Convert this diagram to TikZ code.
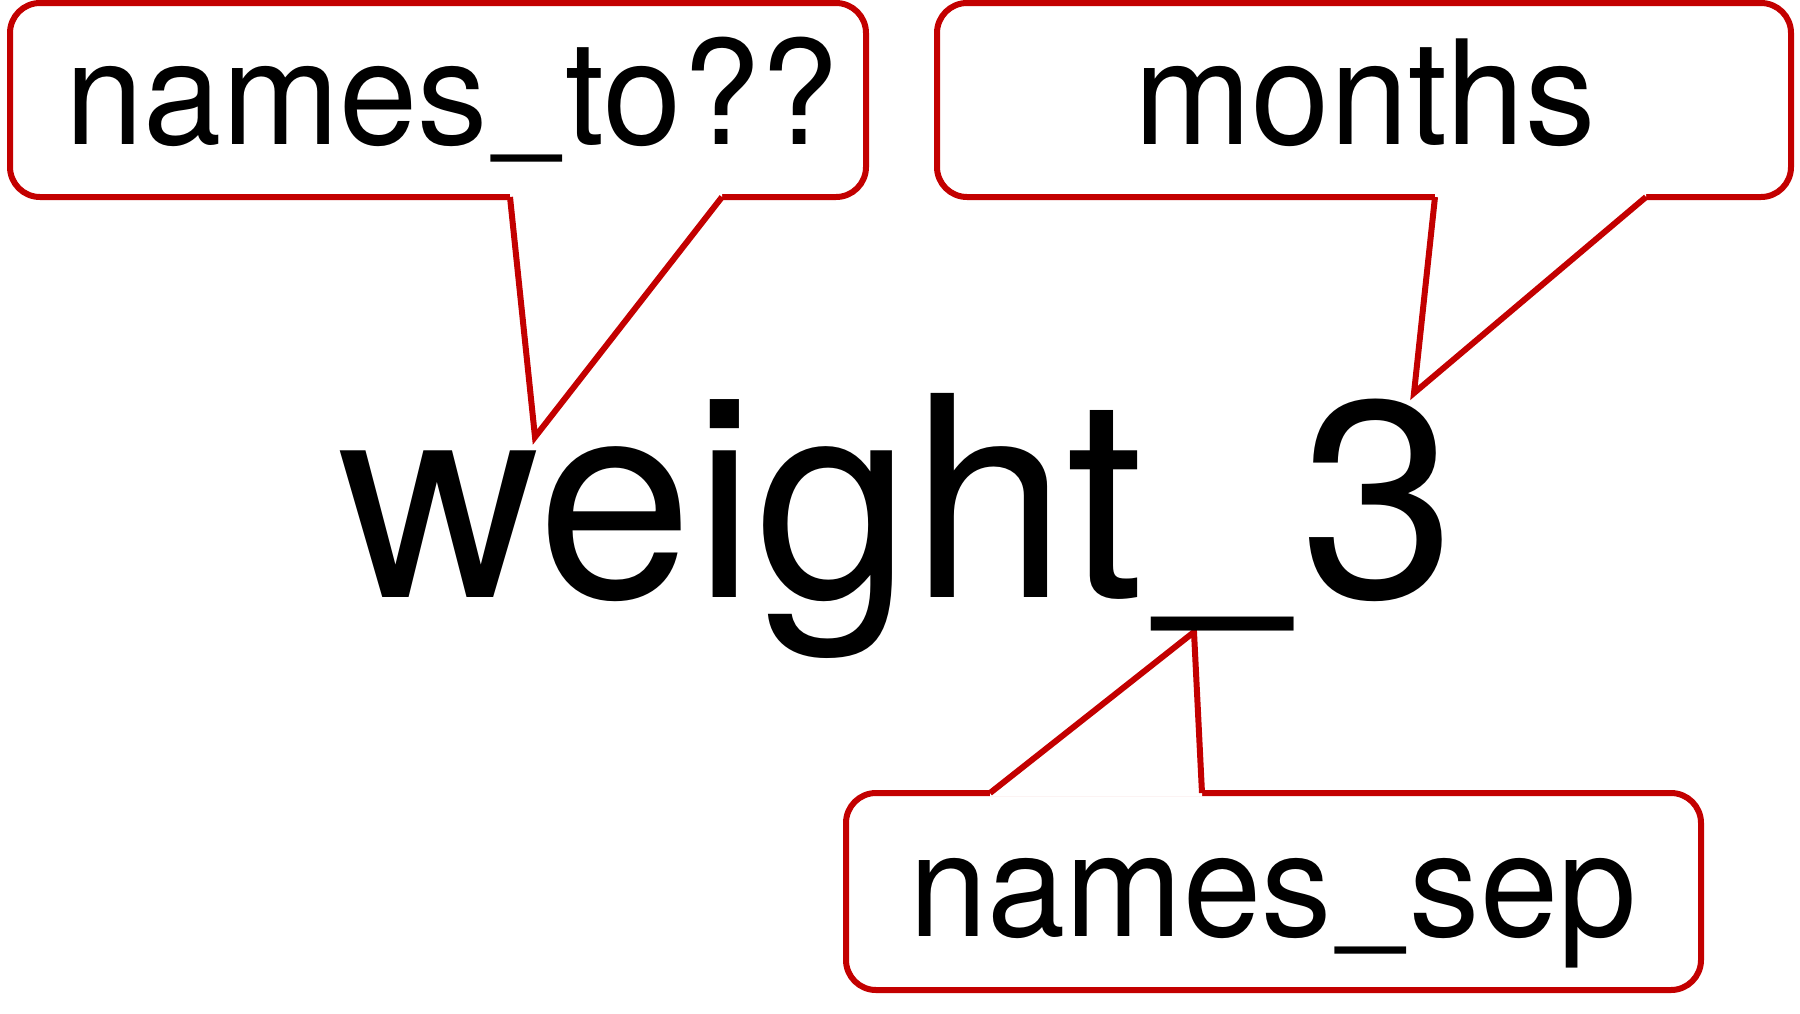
\documentclass[tikz,border=0pt]{standalone}
\usepackage{fontspec}
\setmainfont{TeX Gyre Heros}
\usetikzlibrary{shadows,calc}
\definecolor{callred}{RGB}{195,0,0}
\newsavebox\myusbox
\newcommand\myuscore{\sbox\myusbox{\_}\makebox[\wd\myusbox]{\raisebox{0.055em}{\scalebox{0.85}[1]{\_}}}}
\begin{document}
\begin{tikzpicture}[x=1pt,y=-1pt,
  callbox/.style={draw=callred, line width=6pt, fill=white, rounded corners=30pt,
    inner sep=0pt, outer sep=0pt, anchor=north west,
    drop shadow={shadow xshift=1pt, shadow yshift=-2.5pt, opacity=0.3, fill=black!70}},
  tailline/.style={draw=callred, line width=6pt, line join=miter},
  smalltext/.style={inner sep=0pt, anchor=base, font=\fontsize{145}{150}\selectfont, xscale=0.97},
  bigtext/.style={inner sep=0pt, anchor=base, font=\fontsize{280}{290}\selectfont}]
\useasboundingbox (0,0) rectangle (1800,1013);

% callout boxes
\node[callbox, minimum width=856pt, minimum height=194pt] (b1) at (10,3) {};
\node[callbox, minimum width=854pt, minimum height=194pt] (b2) at (937,3) {};
\node[callbox, minimum width=855pt, minimum height=197pt] (b3) at (846,793) {};

% tail points
\coordinate (b1l) at (510,197);
\coordinate (b1r) at (722,197);
\coordinate (tip1) at (535,437);
\coordinate (b2l) at (1435,197);
\coordinate (b2r) at (1646,197);
\coordinate (tip2) at (1414,393);
\coordinate (b3l) at (990,793);
\coordinate (b3r) at (1202,793);
\coordinate (tip3) at (1194,632);

% tails
\fill[white] ($(b1l)+(0,-3.5)$) -- (b1l) -- (tip1) -- (b1r) -- ($(b1r)+(0,-3.5)$) -- cycle;
\draw[tailline] (b1l) -- (tip1) -- (b1r);
\fill[white] ($(b2l)+(0,-3.5)$) -- (b2l) -- (tip2) -- (b2r) -- ($(b2r)+(0,-3.5)$) -- cycle;
\draw[tailline] (b2l) -- (tip2) -- (b2r);
\fill[white] ($(b3l)+(0,3.5)$) -- (b3l) -- (tip3) -- (b3r) -- ($(b3r)+(0,3.5)$) -- cycle;
\draw[tailline] (b3l) -- (tip3) -- (b3r);

% texts
\node[smalltext] (t1) at (452,144) {names\myuscore to??};
\node[smalltext] (t2) at (1365,144) {months};
\node[smalltext] (t3) at (1273,936) {names\myuscore sep};
\node[bigtext] (w) at (897,597) {weight\myuscore 3};
\end{tikzpicture}
\end{document}
